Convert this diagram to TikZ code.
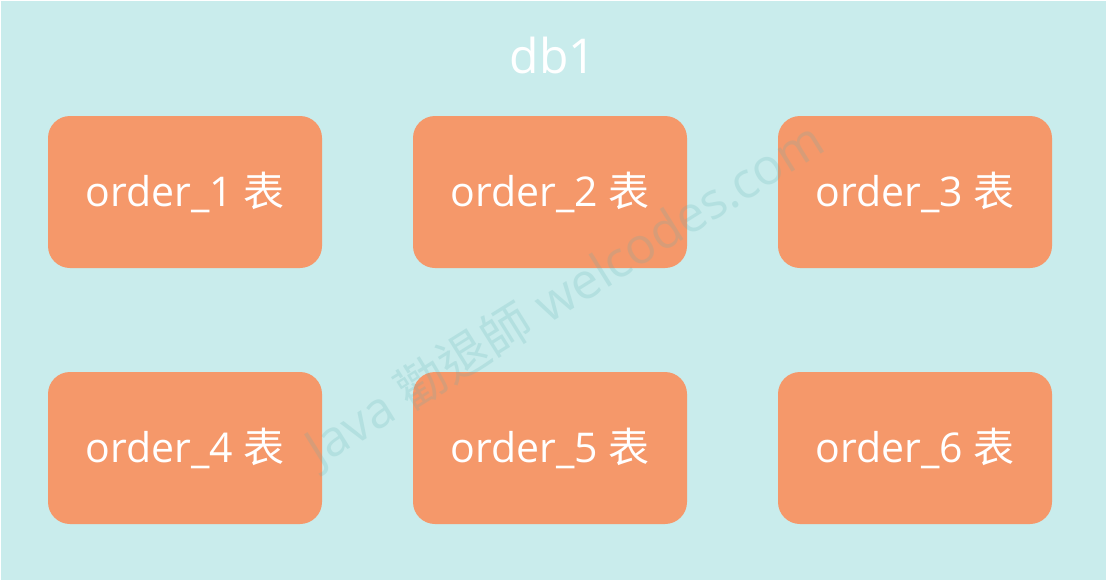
\documentclass[tikz,border=0pt]{standalone}
\usepackage{fontspec}
\setmainfont{Open Sans}
\newfontfamily\cjk{Noto Sans CJK TC}
\definecolor{bgcyan}{HTML}{C9ECEC}
\definecolor{boxorange}{HTML}{F5986A}
\definecolor{wmark}{HTML}{5FB0B0}
\tikzset{
  tablebox/.style={fill=boxorange, draw=none, rounded corners=22pt, minimum width=274pt, minimum height=152pt, inner sep=0pt, text=white, font=\fontsize{41}{43}\selectfont, anchor=center},
  titletext/.style={text=white, font=\fontsize{48}{50}\selectfont},
  watermark/.style={text=wmark, text opacity=0.2, font=\fontsize{50}{52}\selectfont, rotate=32}
}
\begin{document}
\begin{tikzpicture}[x=1pt,y=-1pt]
\useasboundingbox (0,0) rectangle (1108,582);
\fill[white] (0,0) rectangle (1108,582);
\fill[bgcyan] (1,1) rectangle (1106,580);
\node[titletext] (title) at (553,55) {db1};
\node[tablebox] (t1) at (185,192) {order\_1 {\cjk 表}};
\node[tablebox] (t2) at (550,192) {order\_2 {\cjk 表}};
\node[tablebox] (t3) at (915,192) {order\_3 {\cjk 表}};
\node[tablebox] (t4) at (185,448) {order\_4 {\cjk 表}};
\node[tablebox] (t5) at (550,448) {order\_5 {\cjk 表}};
\node[tablebox] (t6) at (915,448) {order\_6 {\cjk 表}};
\node[watermark] (wm) at (565,295) {Java {\cjk 勸退師} welcodes.com};
\end{tikzpicture}
\end{document}
